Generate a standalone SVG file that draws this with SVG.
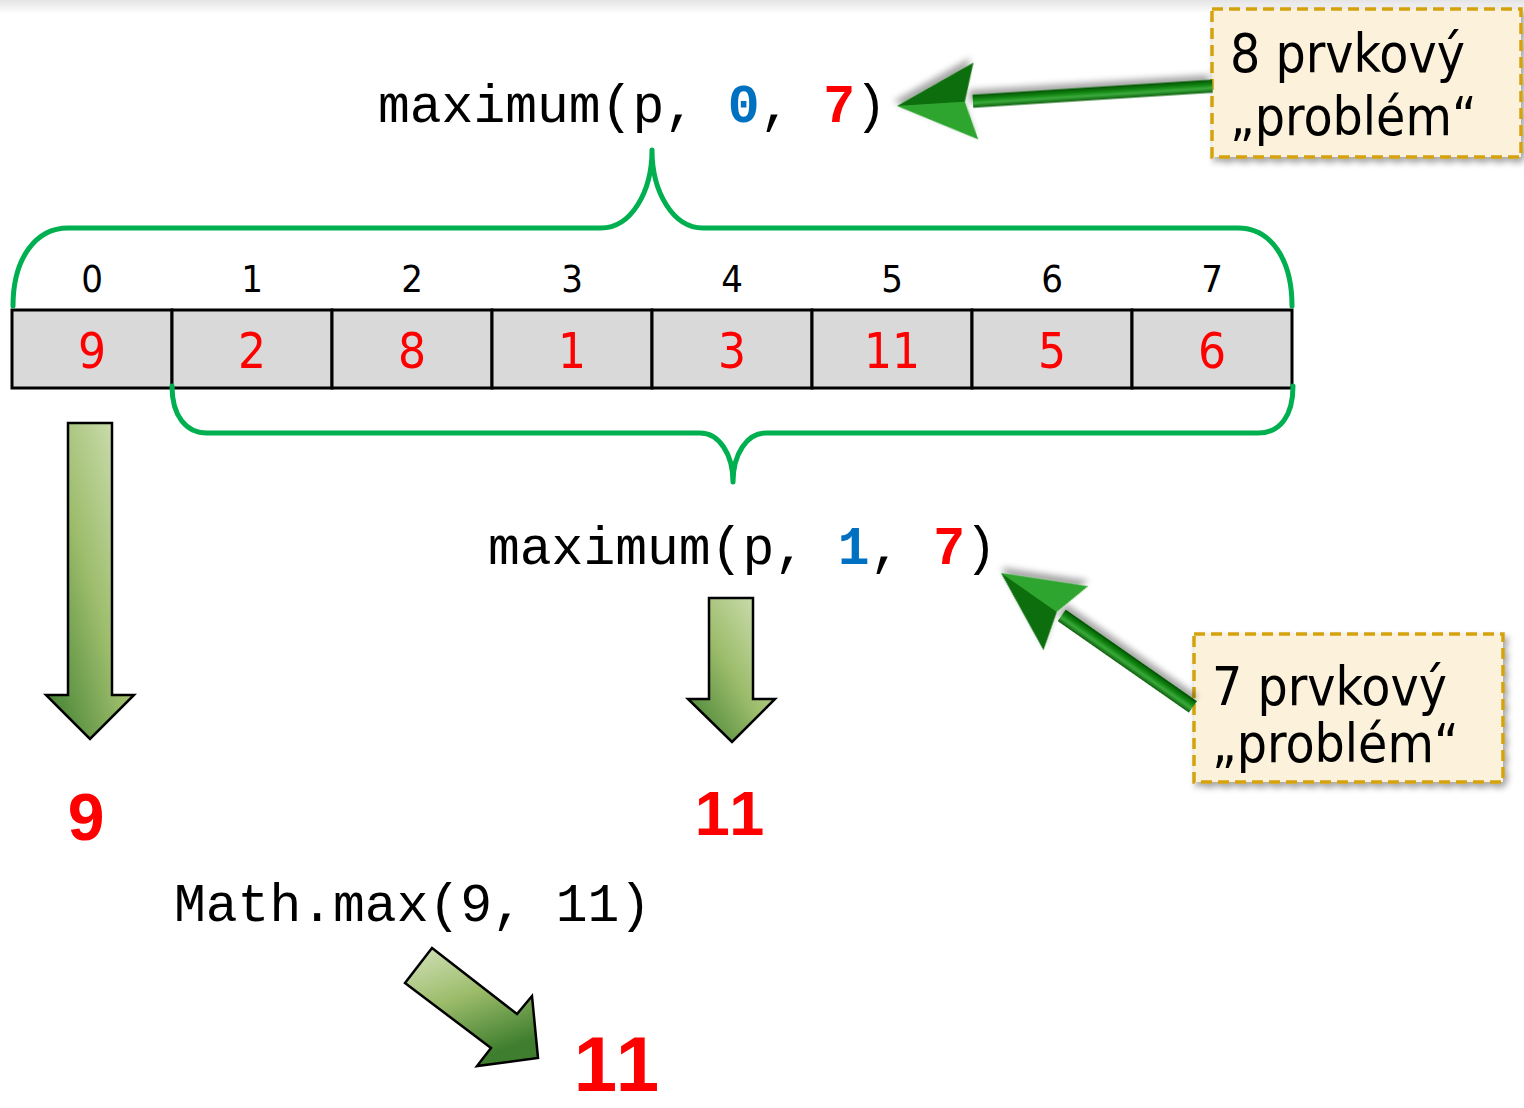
<svg xmlns="http://www.w3.org/2000/svg" width="1524" height="1108" viewBox="0 0 1524 1108">
<defs>
  <linearGradient id="topband" x1="0" y1="0" x2="0" y2="1">
    <stop offset="0" stop-color="#E4E4E4"/>
    <stop offset="1" stop-color="#FFFFFF"/>
  </linearGradient>
  <linearGradient id="blockV" x1="1" y1="0" x2="0" y2="1">
    <stop offset="0" stop-color="#D8E5C0"/>
    <stop offset="0.5" stop-color="#9DBD6C"/>
    <stop offset="1" stop-color="#3A7C2C"/>
  </linearGradient>
  <linearGradient id="blockD" x1="0" y1="0" x2="0.4" y2="1">
    <stop offset="0" stop-color="#D3E2BB"/>
    <stop offset="0.5" stop-color="#9CBC6A"/>
    <stop offset="1" stop-color="#3E7E2E"/>
  </linearGradient>
  <linearGradient id="shaft" x1="0" y1="0" x2="0" y2="1">
    <stop offset="0" stop-color="#0B5E0B"/>
    <stop offset="0.35" stop-color="#3DAA3D"/>
    <stop offset="0.6" stop-color="#138A13"/>
    <stop offset="1" stop-color="#005000"/>
  </linearGradient>
  <filter id="shadow" x="-20%" y="-20%" width="140%" height="150%">
    <feDropShadow dx="3" dy="5" stdDeviation="3" flood-color="#000" flood-opacity="0.35"/>
  </filter>
  <filter id="boxshadow" x="-10%" y="-10%" width="125%" height="130%">
    <feDropShadow dx="3" dy="4" stdDeviation="3" flood-color="#000" flood-opacity="0.35"/>
  </filter>
  <style>
    .code { font-family: "Liberation Mono", "Courier New", monospace; font-size: 53px; fill: #000; }
    .blue { fill: #0070C0; font-weight: bold; }
    .red { fill: #FF0000; font-weight: bold; }
    .idx { font-family: "DejaVu Sans Condensed", "Liberation Sans Narrow", "DejaVu Sans", sans-serif; font-stretch: condensed; font-size: 38px; fill: #000; text-anchor: middle; }
    .val { font-family: "DejaVu Sans Condensed", "Liberation Sans Narrow", "DejaVu Sans", sans-serif; font-stretch: condensed; font-size: 49px; fill: #FF0000; text-anchor: middle; }
    .res { font-family: "Liberation Sans", Arial, sans-serif; font-weight: bold; fill: #FF0000; text-anchor: middle; }
    .cell { fill: #D9D9D9; stroke: #000; stroke-width: 3; }
    .brace { fill: none; stroke: #00B050; stroke-width: 5; stroke-linecap: round; stroke-linejoin: round; }
    .block { stroke: #000; stroke-width: 2.5; stroke-linejoin: miter; }
    .callbox { fill: #FCF1DA; stroke: #D4A20E; stroke-width: 3.5; stroke-dasharray: 11 6; }
    .calltext { font-family: "DejaVu Sans Condensed", "Liberation Sans Narrow", "DejaVu Sans", sans-serif; font-stretch: condensed; font-size: 53px; fill: #000; }
  </style>
</defs>

<rect x="0" y="0" width="1524" height="1108" fill="#FFFFFF"/>
<rect x="0" y="0" width="1524" height="14" fill="url(#topband)"/>

<g id="call-top">
  <text class="code" x="378" y="122">maximum(p, <tspan class="blue">0</tspan>, <tspan class="red">7</tspan>)</text>
</g>

<g id="array">
  <rect class="cell" x="12" y="310" width="160" height="78"/>
  <rect class="cell" x="172" y="310" width="160" height="78"/>
  <rect class="cell" x="332" y="310" width="160" height="78"/>
  <rect class="cell" x="492" y="310" width="160" height="78"/>
  <rect class="cell" x="652" y="310" width="160" height="78"/>
  <rect class="cell" x="812" y="310" width="160" height="78"/>
  <rect class="cell" x="972" y="310" width="160" height="78"/>
  <rect class="cell" x="1132" y="310" width="160" height="78"/>
  <text class="idx" x="92" y="292">0</text>
  <text class="idx" x="252" y="292">1</text>
  <text class="idx" x="412" y="292">2</text>
  <text class="idx" x="572" y="292">3</text>
  <text class="idx" x="732" y="292">4</text>
  <text class="idx" x="892" y="292">5</text>
  <text class="idx" x="1052" y="292">6</text>
  <text class="idx" x="1212" y="292">7</text>
  <text class="val" x="92" y="368">9</text>
  <text class="val" x="252" y="368">2</text>
  <text class="val" x="412" y="368">8</text>
  <text class="val" x="572" y="368">1</text>
  <text class="val" x="732" y="368">3</text>
  <text class="val" x="892" y="368">11</text>
  <text class="val" x="1052" y="368">5</text>
  <text class="val" x="1212" y="368">6</text>
</g>

<g id="braces">
  <path class="brace" d="M13,306 C13,258 36,228 68,228 L601,228 C631,228 652,192 652,150 C652,192 673,228 703,228 L1238,228 C1270,228 1292,258 1292,306"/>
  <path class="brace" d="M172,386 C172,416 186,433 207,433 L700,433 C719,433 733,454 733,482 C733,454 747,433 766,433 L1258,433 C1280,433 1293,416 1293,386"/>
</g>

<g id="call-bottom">
  <text class="code" x="488" y="564">maximum(p, <tspan class="blue">1</tspan>, <tspan class="red">7</tspan>)</text>
</g>

<g id="callout-8">
  <rect class="callbox" x="1212" y="9" width="309" height="148" filter="url(#boxshadow)"/>
  <text class="calltext" x="1230" y="72">8 prvkový</text>
  <text class="calltext" x="1230" y="135">„problém“</text>
</g>

<g id="callout-7">
  <rect class="callbox" x="1194" y="634" width="309" height="148" filter="url(#boxshadow)"/>
  <text class="calltext" x="1212" y="705">7 prvkový</text>
  <text class="calltext" x="1212" y="762">„problém“</text>
</g>

<g id="result-9">
  <text class="res" x="86" y="840" font-size="66">9</text>
</g>
<g id="result-11-mid">
  <text class="res" x="731" y="835" font-size="63" letter-spacing="3">11</text>
</g>
<g id="math-max">
  <text class="code" x="174" y="921">Math.max(9, 11)</text>
</g>
<g id="result-11-final">
  <text class="res" x="618" y="1091" font-size="78" letter-spacing="3">11</text>
</g>

<g id="connectors">
  <polygon class="block" fill="url(#blockV)" points="68,423 112,423 112,695 134,695 90,739 46,695 68,695"/>
  <polygon class="block" fill="url(#blockV)" points="709,598 753,598 753,699 775,699 732,742 688,699 709,699"/>
  <polygon class="block" fill="url(#blockD)" points="432,948 517,1014 532,996 538,1058 477,1066 491,1048 405,983"/>

  <g filter="url(#shadow)" transform="translate(897,106) rotate(176.4)">
    <rect x="-316" y="-6.5" width="240" height="13" fill="url(#shaft)"/>
    <polygon points="0,0 -79,-38.5 -68,0" fill="#2FA52F"/>
    <polygon points="0,0 -79,38.5 -68,0" fill="#0A6E0A"/>
  </g>

  <g filter="url(#shadow)" transform="translate(1001,573) rotate(214.9)">
    <rect x="-234" y="-7" width="160" height="14" fill="url(#shaft)"/>
    <polygon points="0,0 -79,-39 -68,0" fill="#0A6E0A"/>
    <polygon points="0,0 -79,39 -68,0" fill="#2FA52F"/>
  </g>
</g>
</svg>
